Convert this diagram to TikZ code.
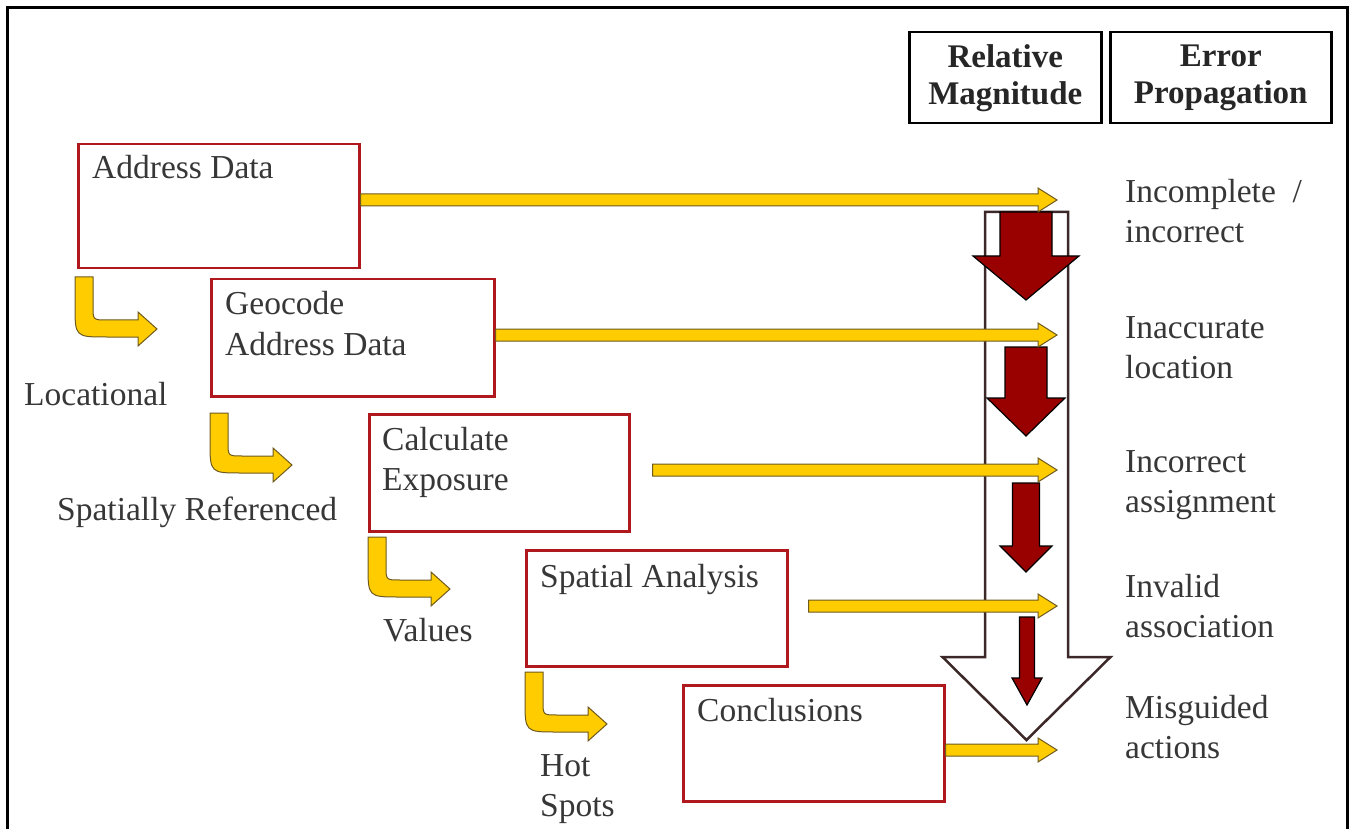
\documentclass[tikz,border=0pt]{standalone}
\usepackage{fontspec}
\setmainfont{Liberation Serif}
\usetikzlibrary{calc}
\definecolor{boxred}{RGB}{175,25,30}
\definecolor{arryel}{RGB}{255,204,0}
\definecolor{yelline}{RGB}{110,90,30}
\definecolor{darr}{RGB}{153,0,0}
\definecolor{txtgray}{RGB}{55,55,55}
\definecolor{wline}{RGB}{60,40,40}
\newcommand\yarrow[2]{%
  \draw[yarr] let \p1=(#1), \p2=(#2) in
  (\x1,\y2+6pt) -- (\x2-19pt,\y2+6pt) -- (\x2-19pt,\y2+12pt) -- (\x2,\y2)
  -- (\x2-19pt,\y2-12pt) -- (\x2-19pt,\y2-6pt) -- (\x1,\y2-6pt) -- cycle;}
\newcommand\dnarr[7]{%
  \draw[#1] ({#2-#4},#3) -- ({#2+#4},#3) -- ({#2+#4},#5) -- ({#2+#6},#5)
  -- (#2,#7) -- ({#2-#6},#5) -- ({#2-#4},#5) -- cycle;}
\begin{document}
\begin{tikzpicture}[x=1pt,y=-1pt,
  txt/.style={font=\fontsize{33.5}{40}\selectfont,text=txtgray,inner sep=0pt,anchor=base west,align=left},
  hdr/.style={draw,line width=2.5pt,inner sep=0pt,anchor=north west,minimum height=91pt,
    font=\fontsize{33}{37}\selectfont\bfseries,text=black!85,align=center},
  box/.style={draw=boxred,line width=2.5pt,inner sep=0pt,anchor=north west},
  yarr/.style={fill=arryel,draw=yelline,line width=1pt},
  redarr/.style={fill=darr,draw=black,line width=1.2pt},
  whitearr/.style={fill=white,draw=wline,line width=2.5pt},
  bentarrow/.pic={\draw[yarr] (0,0) -- (18,0) -- (18,29) .. controls (18,43) .. (32,43)
     -- (63,43) -- (63,35) -- (82,52) -- (63,69) -- (63,60) -- (32,60)
     .. controls (0,60) .. (0,28) -- cycle;}]
\useasboundingbox (0,0) rectangle (1353,829);
% frame
\draw[line width=3pt] (7,829) -- (7,8) -- (1347,8) -- (1347,829);
% headers
\node[hdr,minimum width=192pt] (h1) at (908,31) {Relative\\Magnitude};
\node[hdr,minimum width=221pt] (h2) at (1109,31) {Error\\Propagation};
% boxes
\node[box,minimum width=281pt,minimum height=124pt] (b1) at (77,143) {};
\node[box,minimum width=283pt,minimum height=117pt] (b2) at (210,278) {};
\node[box,minimum width=260pt,minimum height=117pt] (b3) at (368,413) {};
\node[box,minimum width=261pt,minimum height=116pt] (b4) at (525,549) {};
\node[box,minimum width=261pt,minimum height=116pt] (b5) at (682,684) {};
% box texts (base anchor = baseline of last line)
\node[txt] (t1) at (92,179) {Address Data};
\node[txt] (t2) at (225,355) {Geocode\\Address Data};
\node[txt] (t3) at (382,490) {Calculate\\Exposure};
\node[txt] (t4) at (540,587) {Spatial Analysis};
\node[txt] (t5) at (697,721) {Conclusions};
% bent arrows
\pic at (75,277) {bentarrow};
\pic at (210,413) {bentarrow};
\pic at (368,537) {bentarrow};
\pic at (525,672) {bentarrow};
% left labels
\node[txt] (l1) at (24,405) {Locational};
\node[txt] (l2) at (57,520) {Spatially Referenced};
\node[txt] (l3) at (383,641) {Values};
\node[txt] (l4) at (540,816) {Hot\\Spots};
% right labels
\node[txt] (r1) at (1125,243) {Incomplete\ \ /\\incorrect};
\node[txt] (r2) at (1125,378) {Inaccurate\\location};
\node[txt] (r3) at (1125,512) {Incorrect\\assignment};
\node[txt] (r4) at (1125,637) {Invalid\\association};
\node[txt] (r5) at (1125,758) {Misguided\\actions};
% magnitude arrows
\dnarr{whitearr}{1026.5}{212}{41.5}{657}{84}{740}
\dnarr{redarr}{1026}{212}{26}{256}{53}{300}
\dnarr{redarr}{1026}{347}{21}{398}{39}{436}
\dnarr{redarr}{1026}{483}{13.5}{546}{26}{572}
\dnarr{redarr}{1027}{617}{7.5}{678}{15}{705}
% propagation arrows
\coordinate (e1) at (1057,200);
\coordinate (e2) at (1057,335);
\coordinate (e3) at (1057,470);
\coordinate (e4) at (1057,606);
\coordinate (e5) at (1057,750);
\yarrow{b1.east |- e1}{e1}
\yarrow{b2.east |- e2}{e2}
\yarrow{$(b3.east |- e3)+(22,0)$}{e3}
\yarrow{$(b4.east |- e4)+(20,0)$}{e4}
\yarrow{b5.east |- e5}{e5}
\end{tikzpicture}
\end{document}
